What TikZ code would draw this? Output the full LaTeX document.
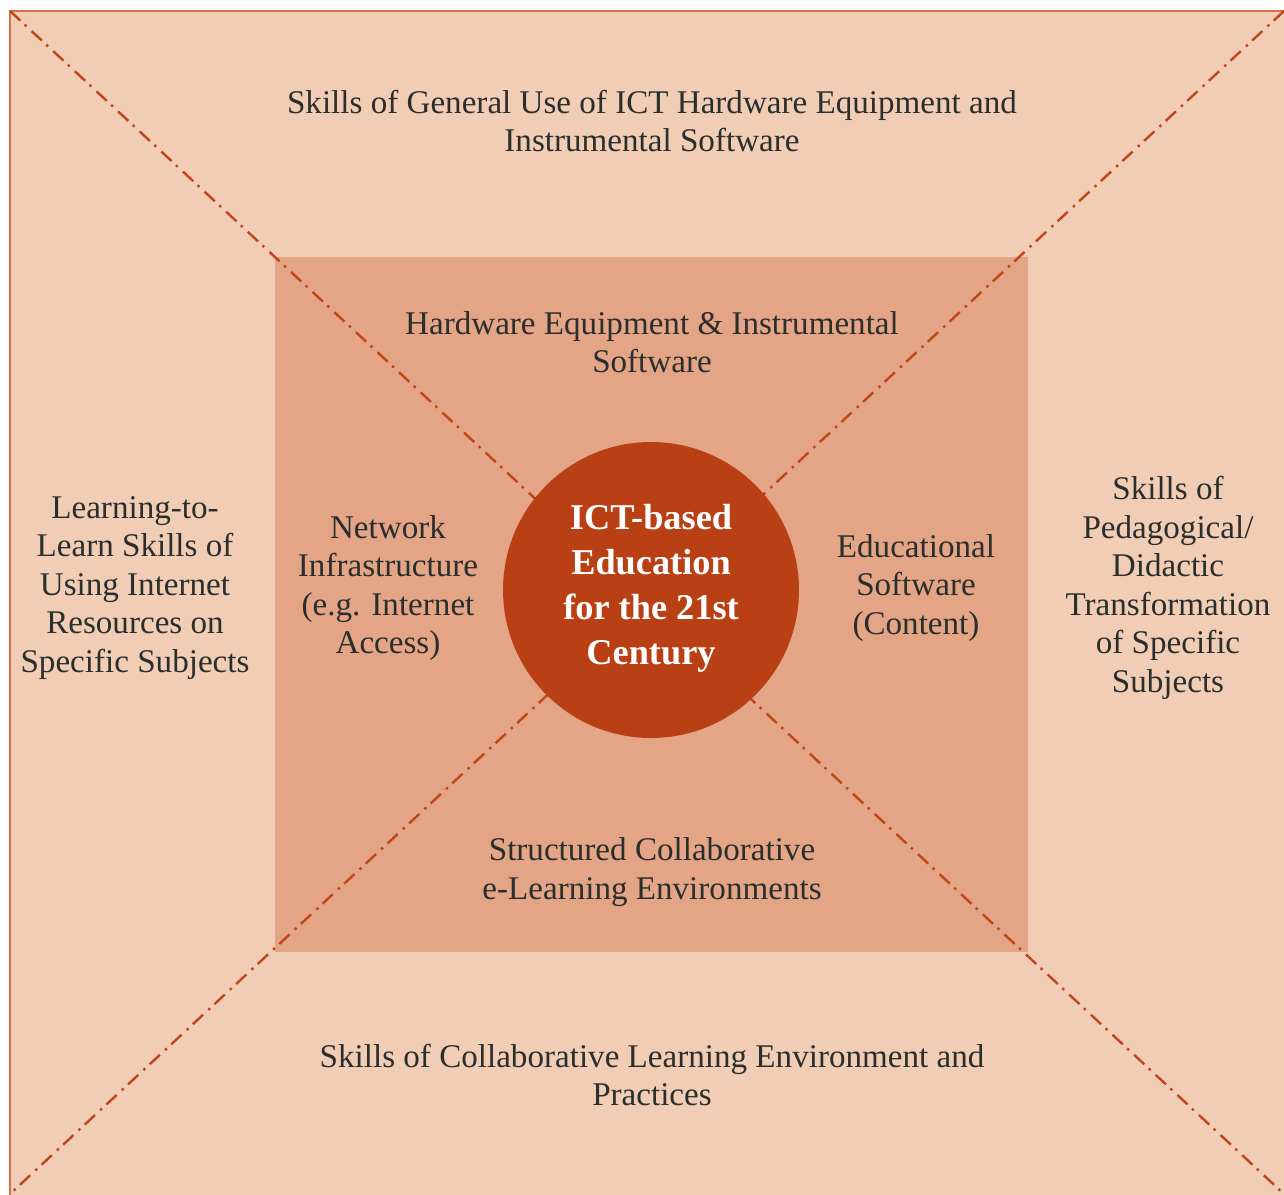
\documentclass[tikz,border=0pt]{standalone}
\usepackage{fontspec}
\setmainfont{Liberation Serif}
\definecolor{outerfill}{HTML}{F2CDB6}
\definecolor{innerfill}{HTML}{E3A586}
\definecolor{corefill}{HTML}{B93F14}
\definecolor{diagline}{HTML}{C0461A}
\definecolor{borderline}{HTML}{D9704A}
\definecolor{textcol}{HTML}{2A2E2C}
\begin{document}
\begin{tikzpicture}[x=1pt,y=-1pt,
  lbl/.style={align=center,text=textcol,font=\fontsize{33.1}{38.5}\selectfont,inner sep=0pt},
  corelbl/.style={align=center,text=white,font=\fontsize{36.3}{45}\selectfont\bfseries,inner sep=0pt},
  diag/.style={draw=diagline,line width=2.4pt,dash pattern=on 14pt off 6pt on 2.5pt off 7pt}]
\useasboundingbox (0,0) rectangle (1284,1194);
\clip (0,0) rectangle (1284,1194);
\coordinate (tl) at (10,11);
\coordinate (br) at (1290,1200);
\path[fill=outerfill,draw=borderline,line width=2.5pt] (tl) rectangle (br);
\node[fill=innerfill,minimum width=753pt,minimum height=695pt,inner sep=0pt,draw=none] (inner) at (651.5,604.5) {};
\coordinate (d1a) at (10,11);
\coordinate (d1b) at (1284,1194);
\coordinate (d2a) at (1284,11);
\coordinate (d2b) at (10,1194);
\draw[diag] (d1a) -- (d1b);
\draw[diag] (d2a) -- (d2b);
\node[circle,fill=corefill,minimum size=296pt,inner sep=0pt] (core) at (651,590) {};
\node[corelbl] (coretext) at (651,588) {ICT-based\\Education\\for the 21st\\Century};
\node[lbl] (top) at (652,121) {Skills of General Use of ICT Hardware Equipment and\\Instrumental Software};
\node[lbl] (intop) at (652,342) {Hardware Equipment \& Instrumental\\Software};
\node[lbl] (left) at (135,588) {Learning-to-\\Learn Skills of\\Using Internet\\Resources on\\Specific Subjects};
\node[lbl] (inleft) at (388,588) {Network\\Infrastructure\\(e.g. Internet\\Access)};
\node[lbl] (inright) at (916,588) {Educational\\Software\\(Content)};
\node[lbl] (right) at (1168,588) {Skills of\\Pedagogical/\\Didactic\\Transformation\\of Specific\\Subjects};
\node[lbl] (inbottom) at (652,872) {Structured Collaborative\\e-Learning Environments};
\node[lbl] (bottom) at (652,1075) {Skills of Collaborative Learning Environment and\\Practices};
\end{tikzpicture}
\end{document}
